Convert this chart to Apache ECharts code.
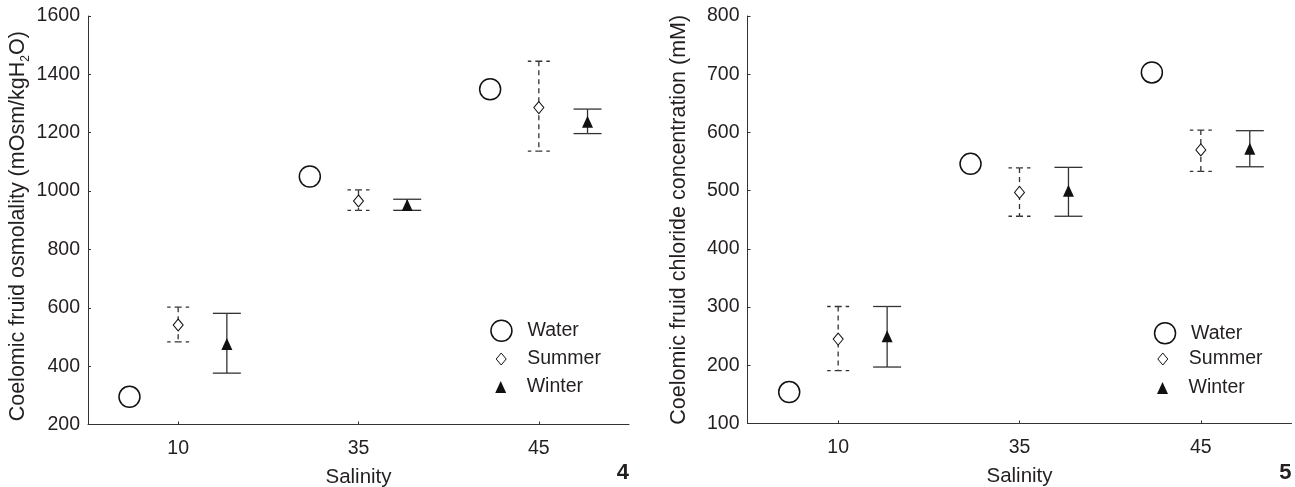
<!DOCTYPE html>
<html><head><meta charset="utf-8">
<script src="https://cdn.jsdelivr.net/npm/echarts@6/dist/echarts.min.js"></script>
<style>html,body{margin:0;padding:0;background:#fff}#c{width:1295px;height:487px}</style>
</head><body><div id="c"></div>
<script>
// ---- data ----
const salinity = ['10', '35', '45'];
const osmoWater = [295, 1050, 1349];
const osmoSummer = [541, 966, 1286];
const osmoSummerLow = [483, 934, 1137];
const osmoSummerHigh = [602, 1004, 1445];
const osmoWinter = [476, 952, 1238];
const osmoWinterLow = [376, 934, 1197];
const osmoWinterHigh = [581, 972, 1281];

const chlWater = [154, 546, 703];
const chlSummer = [245, 497, 570];
const chlSummerLow = [191, 456, 533];
const chlSummerHigh = [301, 539, 604];
const chlWinter = [250, 500, 572];
const chlWinterLow = [197, 456, 541];
const chlWinterHigh = [301, 540, 603];

const osmoTicks = [200, 1600, 200];   // min, max, interval
const chlTicks = [100, 800, 100];

// ---- styling ----
const FONT = '"Liberation Sans", Arial, sans-serif';
const TXT = '#231f20';
const LINE = '#333333';
const OFF = { water: -0.27, summer: 0, winter: 0.27 };
const catPos = salinity.map((s, i) => i + 0.5);

const DIAMOND = 'path://M5,0L10,6L5,12L0,6Z';
const TRI = 'path://M5.5,0L11,12L0,12Z';

function xAxis(gi) {
  return {
    type: 'value', gridIndex: gi, min: 0, max: 3,
    axisLine: { show: true, onZero: false, lineStyle: { color: LINE, width: 1 } },
    axisTick: { show: true, inside: true, length: 3, customValues: catPos, lineStyle: { color: LINE } },
    axisLabel: { customValues: catPos, formatter: v => salinity[Math.round(v - 0.5)],
      fontSize: 19.5, color: TXT, fontFamily: FONT, margin: 14 },
    splitLine: { show: false },
    name: 'Salinity', nameLocation: 'middle', nameGap: 42,
    nameTextStyle: { fontSize: 20.5, color: TXT, fontFamily: FONT }
  };
}
function yAxis(gi, t, name, gap, pad) {
  return {
    type: 'value', gridIndex: gi, min: t[0], max: t[1], interval: t[2],
    axisLine: { show: true, lineStyle: { color: LINE, width: 1 } },
    axisTick: { show: true, inside: true, length: 3, lineStyle: { color: LINE } },
    axisLabel: { fontSize: 19.5, color: TXT, fontFamily: FONT, margin: 8, formatter: v => String(v) },
    splitLine: { show: false },
    name: name, nameLocation: 'middle', nameGap: gap,
    nameTextStyle: { fontSize: 21.5, color: TXT, fontFamily: FONT, padding: pad,
      rich: { sub: { fontSize: 12, color: TXT, fontFamily: FONT, verticalAlign: 'bottom', padding: [0, 0, -3, 0] } } }
  };
}
function errSeries(name, gi, low, high, off, dashed) {
  return {
    type: 'custom', name: name, xAxisIndex: gi, yAxisIndex: gi, silent: true, z: 2,
    data: low.map((l, i) => [catPos[i] + off, l, high[i]]),
    encode: { x: 0, y: [1, 2] },
    renderItem: (params, api) => {
      const x = api.value(0);
      const p1 = api.coord([x, api.value(1)]);
      const p2 = api.coord([x, api.value(2)]);
      const hw = 14;
      const st = { stroke: LINE, lineWidth: 1.3, lineDash: dashed ? [5, 4] : null, fill: null };
      const cs = { stroke: LINE, lineWidth: 1.3, lineDash: dashed ? [3.5, 4] : null, fill: null };
      const kids = [
        { type: 'line', shape: { x1: p2[0], y1: p2[1], x2: p1[0], y2: p1[1] }, style: st }
      ];
      [p1, p2].forEach(p => {
        kids.push({ type: 'line', shape: { x1: p[0], y1: p[1], x2: p[0] - hw, y2: p[1] }, style: cs });
        kids.push({ type: 'line', shape: { x1: p[0], y1: p[1], x2: p[0] + hw, y2: p[1] }, style: cs });
      });
      return { type: 'group', children: kids };
    }
  };
}
function pts(gi, name, vals, off, symbol, size, style) {
  return {
    type: 'scatter', name: name, xAxisIndex: gi, yAxisIndex: gi, z: 5, silent: true,
    data: vals.map((v, i) => [catPos[i] + off, v]),
    symbol: symbol, symbolSize: size, symbolKeepAspect: false,
    itemStyle: style
  };
}
const waterStyle = { color: '#fff', borderColor: '#111', borderWidth: 1.5, opacity: 1 };
const summerStyle = { color: '#fff', borderColor: '#111', borderWidth: 1, opacity: 1 };
const winterStyle = { color: '#111', borderWidth: 0, opacity: 1 };

function leg(name, icon, h, left, top, style) {
  return {
    data: [{ name: name, icon: icon, itemStyle: style }],
    left: left, top: top, orient: 'vertical', padding: 0, itemGap: 0,
    itemWidth: 42, itemHeight: h, selectedMode: false,
    textStyle: { fontSize: 19.5, color: TXT, fontFamily: FONT }
  };
}

const chart = echarts.init(document.getElementById('c'));
chart.setOption({
  animation: false,
  backgroundColor: '#fff',
  grid: [
    { left: 88, top: 16, width: 541, height: 408.5, containLabel: false, outerBoundsMode: 'none' },
    { left: 747.5, top: 16, width: 544, height: 407.5, containLabel: false, outerBoundsMode: 'none' }
  ],
  xAxis: [xAxis(0), xAxis(1)],
  yAxis: [
    yAxis(0, osmoTicks, 'Coelomic fruid osmolality (mOsm/kgH{sub|2}O)', 59, [0, 12, 0, 0]),
    yAxis(1, chlTicks, 'Coelomic fruid chloride concentration (mM)', 57, 0)
  ],
  legend: [
    leg('Water', 'circle', 21, 490.2, 319.5, waterStyle),
    leg('Summer', DIAMOND, 12, 495.7, 349, summerStyle),
    leg('Winter', TRI, 12, 495.2, 377, winterStyle),
    leg('Water', 'circle', 21, 1153.8, 322, waterStyle),
    leg('Summer', DIAMOND, 12, 1157.3, 349, summerStyle),
    leg('Winter', TRI, 12, 1157, 378, winterStyle)
  ],
  graphic: [
    { type: 'text', x: 629, y: 472.5, style: { text: '4', font: 'bold 22px "Liberation Sans", Arial, sans-serif', fill: TXT, textAlign: 'right', textVerticalAlign: 'middle' } },
    { type: 'text', x: 1291.5, y: 472.5, style: { text: '5', font: 'bold 22px "Liberation Sans", Arial, sans-serif', fill: TXT, textAlign: 'right', textVerticalAlign: 'middle' } }
  ],
  series: [
    errSeries('Summer SD', 0, osmoSummerLow, osmoSummerHigh, OFF.summer, true),
    errSeries('Winter SD', 0, osmoWinterLow, osmoWinterHigh, OFF.winter, false),
    pts(0, 'Water', osmoWater, OFF.water, 'circle', 21, waterStyle),
    pts(0, 'Summer', osmoSummer, OFF.summer, DIAMOND, [10, 12], summerStyle),
    pts(0, 'Winter', osmoWinter, OFF.winter, TRI, [11, 12], winterStyle),
    errSeries('Summer SD', 1, chlSummerLow, chlSummerHigh, OFF.summer, true),
    errSeries('Winter SD', 1, chlWinterLow, chlWinterHigh, OFF.winter, false),
    pts(1, 'Water', chlWater, OFF.water, 'circle', 21, waterStyle),
    pts(1, 'Summer', chlSummer, OFF.summer, DIAMOND, [10, 12], summerStyle),
    pts(1, 'Winter', chlWinter, OFF.winter, TRI, [11, 12], winterStyle)
  ]
});
</script>
</body></html>
